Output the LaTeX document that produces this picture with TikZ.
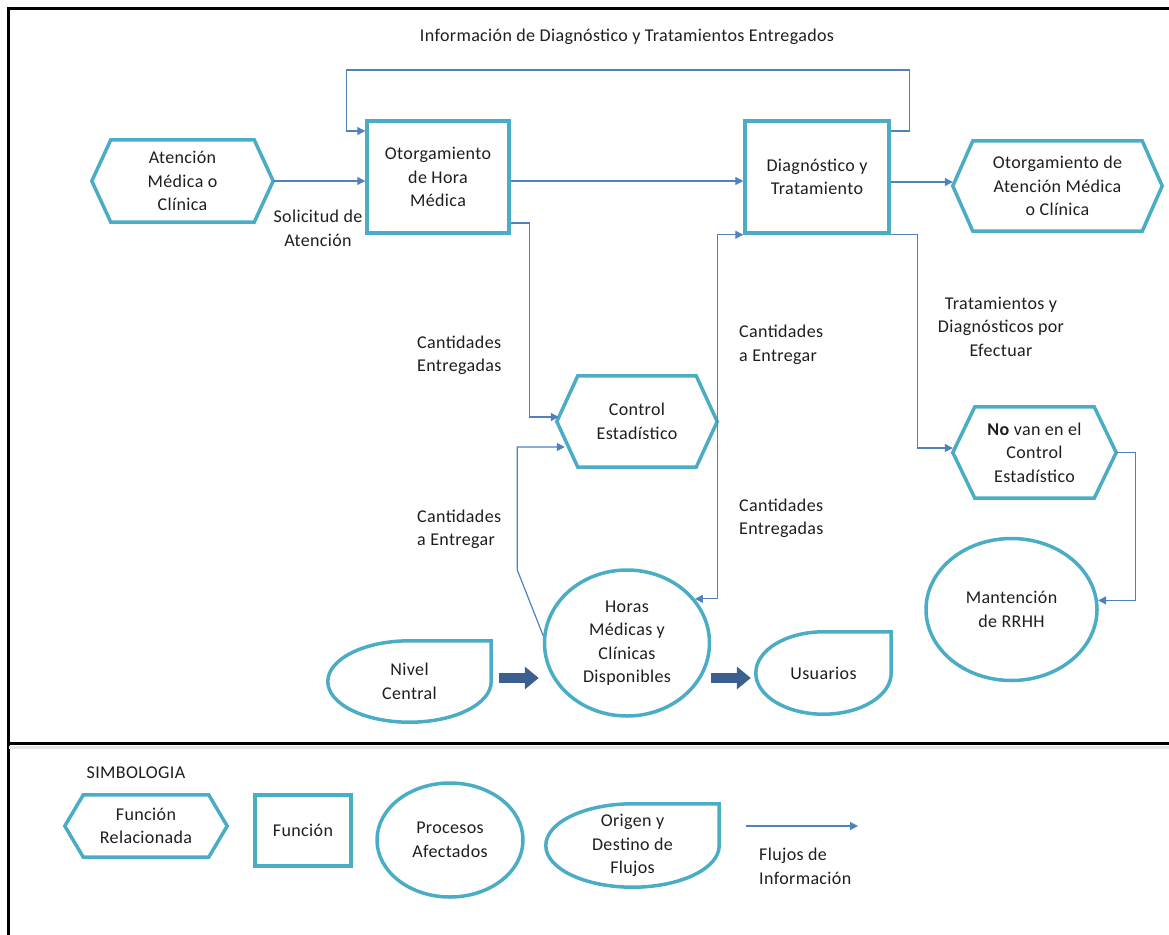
\documentclass[tikz,border=0pt]{standalone}
\usepackage{fontspec}
\setmainfont[LetterSpace=2]{Carlito}
\usetikzlibrary{shapes.geometric,arrows.meta,calc}

\definecolor{tealline}{HTML}{4BACC6}
\definecolor{flowblue}{HTML}{4F81BD}
\definecolor{fatblue}{HTML}{3B6090}
\definecolor{inkc}{HTML}{1E1E1E}

% hexagon outline around a (borderless) rectangular node; #2 = corner indent
\newcommand\hexoutline[2]{%
  \draw[outl] (#1.west) -- ([xshift=#2]#1.north west) -- ([xshift=-#2]#1.north east)
    -- (#1.east) -- ([xshift=-#2]#1.south east) -- ([xshift=#2]#1.south west) -- cycle;}
% rounded "drop" outline: three quarters of an ellipse, square top-right corner
\newcommand\dropoutline[1]{%
  \draw[outl] let \p1=($(#1.north east)-(#1.center)$) in
    (#1.north) arc[start angle=90,end angle=360,x radius=\x1,y radius=\y1]
    -- (#1.north east) -- cycle;}

\begin{document}
\begin{tikzpicture}[x=1pt,y=-1pt,
  every node/.style={text=inkc,font=\fontsize{18}{23.5}\selectfont},
  fbox/.style={draw=tealline,line width=3.5pt,inner sep=0,align=center},
  hexn/.style={inner sep=0,align=center},
  ell/.style={ellipse,draw=tealline,line width=3.5pt,inner sep=0,align=center},
  dropn/.style={inner sep=0,align=center},
  outl/.style={draw=tealline,line width=3.5pt,line join=miter},
  flow/.style={draw=flowblue,line width=1.2pt,-{Triangle[length=8pt,width=8pt]}},
  fat/.style={draw=fatblue,line width=10pt,-{Triangle[length=14pt,width=22pt]}},
  lbl/.style={inner sep=0}]

\useasboundingbox (0,0) rectangle (1169,934);

% frame and divider of the legend
\draw[line width=3.5pt] (1172,8.5) -- (8.5,8.5) -- (8.5,937);
\draw[black!10,line width=3pt] (8.5,747) -- (1169,747);
\draw[line width=3.5pt] (8.5,743.5) -- (1169,743.5);

% ---- main diagram nodes
\node[hexn,minimum width=181,minimum height=82] (aten) at (182.5,181)
  {Atención\\Médica o\\Clínica};
\hexoutline{aten}{19}
\node[fbox,minimum width=142,minimum height=112] (otg) at (438,177)
  {Otorgamiento\\de Hora\\Médica};
\node[fbox,minimum width=144,minimum height=112] (diag) at (817,177)
  {Diagnóstico y\\Tratamiento};
\node[hexn,minimum width=209,minimum height=90] (oat) at (1057.5,186)
  {Otorgamiento de\\Atención Médica\\o Clínica};
\hexoutline{oat}{20}
\node[hexn,minimum width=160,minimum height=91] (ctrl) at (637,421.5)
  {Control\\Estadístico};
\hexoutline{ctrl}{21}
\node[hexn,minimum width=163,minimum height=91] (novan) at (1034.5,452.5)
  {{\bfseries No} van en el\\Control\\Estadístico};
\hexoutline{novan}{22}
\node[ell,minimum width=171,minimum height=142] (mant) at (1011.5,609.5)
  {Mantención\\de RRHH};
\node[ell,minimum width=165,minimum height=146] (horas) at (627,643)
  {Horas\\Médicas y\\Clínicas\\Disponibles};
\node[dropn,minimum width=163,minimum height=81] (nivel) at (409.5,681.5)
  {Nivel\\Central};
\dropoutline{nivel}
\node[dropn,minimum width=135,minimum height=82] (usu) at (823.5,673)
  {Usuarios};
\dropoutline{usu}

% ---- labels of the flows
\node[lbl] (ttop) at (627,37) {Información de Diagnóstico y Tratamientos Entregados};
\node[lbl,align=center] (tsol) at (318,228.5) {Solicitud de\\Atención};
\node[lbl,align=left,anchor=west] (tce1) at (417,355.5) {Cantidades\\Entregadas};
\node[lbl,align=left,anchor=west] (tca1) at (417,529.5) {Cantidades\\a Entregar};
\node[lbl,align=left,anchor=west] (tca2) at (739,345) {Cantidades\\a Entregar};
\node[lbl,align=left,anchor=west] (tce2) at (739,518.5) {Cantidades\\Entregadas};
\node[lbl,align=center] (ttra) at (1001,326.5) {Tratamientos y\\Diagnósticos por\\Efectuar};

% ---- information flows
\draw[flow] (aten.east) -- (aten.east -| otg.west);
\draw[flow] ([yshift=-4pt]otg.east) -- ([yshift=-4pt]diag.west);
\draw[flow] ([yshift=-5pt]diag.east) -- ([yshift=-5pt]diag.east -| oat.west);
\draw[flow] ([yshift=46pt]diag.east) -- ++(19,0) -- ++(0,-61)
  -| ([xshift=-19pt,yshift=46pt]otg.west) -- ([yshift=46pt]otg.west);
\draw[flow] ([yshift=-46pt]otg.east) -- ++(19,0) |- ([shift={(2pt,4.5pt)}]ctrl.west);
\draw[flow] (ctrl.east) |- (diag.south west);
\draw[flow] (ctrl.east) |- (horas.33);
\draw[flow] (horas.175) -- ++(-26,-66) |- ([shift={(8pt,-25.5pt)}]ctrl.west);
\draw[flow] (diag.south east) -- ++(27,0) |- ([yshift=4.5pt]novan.west);
\draw[flow] (novan.east) -- ++(19,0) |- (mant.6);

% ---- supply of hours
\draw[fat,shorten <=8pt,shorten >=4pt] ([yshift=3.5pt]nivel.east) -- ([yshift=3.5pt]nivel.east -| horas.west);
\draw[fat,shorten >=5pt] ([yshift=-5pt]usu.west -| horas.east) -- ([yshift=-5pt]usu.west);

% ---- legend
\node[lbl] (simb) at (136,773) {SIMBOLOGIA};
\node[hexn,minimum width=162,minimum height=62] (lhex) at (146,826)
  {Función\\Relacionada};
\hexoutline{lhex}{18.5}
\node[fbox,minimum width=96,minimum height=71] (lbox) at (303,830.5) {Función};
\node[ell,minimum width=146,minimum height=114] (lell) at (450,840)
  {Procesos\\Afectados};
\node[dropn,minimum width=173,minimum height=83] (ldrop) at (632.5,845.5)
  {Origen y\\Destino de\\Flujos};
\dropoutline{ldrop}
\coordinate (larrA) at (746,826);
\coordinate (larrB) at (858,826);
\draw[flow] (larrA) -- (larrB);
\node[lbl,align=left,anchor=west] (lflu) at (759,866.5) {Flujos de\\Información};

\end{tikzpicture}
\end{document}
